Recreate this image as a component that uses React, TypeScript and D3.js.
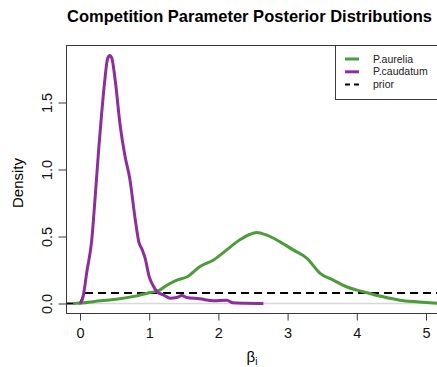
import React, { useEffect, useRef } from 'react';
import * as d3 from 'd3';

// posterior density estimates: [beta, density]
const aureliaX = [-0.1, 0.0, 0.3, 0.55, 0.8, 1.0, 1.15, 1.25, 1.4, 1.55, 1.73, 1.93, 2.12, 2.31, 2.45, 2.55, 2.7, 2.89, 3.08, 3.28, 3.47, 3.66, 3.85, 4.0, 4.15, 4.38, 4.62, 4.9, 5.2];
const aureliaY = [0.0, 0.003, 0.02, 0.033, 0.055, 0.08, 0.1, 0.135, 0.175, 0.2, 0.275, 0.325, 0.4, 0.475, 0.515, 0.53, 0.51, 0.46, 0.4, 0.337, 0.225, 0.175, 0.125, 0.1, 0.08, 0.05, 0.025, 0.012, 0.0];

const caudatumX = [0.0, 0.04, 0.1, 0.17, 0.22, 0.27, 0.31, 0.36, 0.4, 0.43, 0.46, 0.51, 0.58, 0.65, 0.72, 0.8, 0.85, 0.9, 0.94, 1.0, 1.06, 1.11, 1.2, 1.3, 1.4, 1.47, 1.54, 1.73, 1.93, 2.12, 2.21, 2.4, 2.65];
const caudatumY = [0.0, 0.04, 0.24, 0.475, 0.8, 1.15, 1.4, 1.675, 1.83, 1.85, 1.83, 1.66, 1.33, 1.1, 0.93, 0.62, 0.46, 0.4, 0.34, 0.2, 0.13, 0.09, 0.065, 0.04, 0.045, 0.06, 0.045, 0.035, 0.02, 0.025, 0.005, 0.002, 0.0];

const priorX = [-0.2, 0.0, 0.06, 6.0];
const priorY = [0.0, 0.0, 0.078, 0.078];

const xTicks = [0, 1, 2, 3, 4, 5];
const yTicks = [0.0, 0.5, 1.0, 1.5];
const yTickLabels = ['0.0', '0.5', '1.0', '1.5'];

const seriesNames = ['P.aurelia', 'P.caudatum', 'prior'];
const seriesColors = ['#4c9c39', '#8c2e9b', '#000000'];

const width = 437;
const height = 367;
const font = '"Liberation Sans", Arial, Helvetica, sans-serif';

type Pt = [number, number];

function App() {
  const ref = useRef<SVGSVGElement>(null);

  useEffect(() => {
    const svg = d3.select(ref.current);
    svg.selectAll('*').remove();

    const box = { left: 66.5, top: 45.5, right: 460, bottom: 313.5 };

    const xScale = d3.scaleLinear().domain([0, 5]).range([80, 426]);
    const yScale = d3.scaleLinear().domain([0, 1.5]).range([303.5, 102.5]);

    const plot = svg.append('g');
    plot
      .append('clipPath')
      .attr('id', 'plotclip')
      .append('rect')
      .attr('x', box.left)
      .attr('y', box.top)
      .attr('width', box.right - box.left)
      .attr('height', box.bottom - box.top);

    const inner = plot.append('g').attr('clip-path', 'url(#plotclip)');

    // zero reference line
    inner
      .append('line')
      .attr('x1', box.left)
      .attr('x2', box.right)
      .attr('y1', yScale(0))
      .attr('y2', yScale(0))
      .attr('stroke', '#d8d8d8')
      .attr('stroke-width', 1.5);

    const line = d3
      .line<Pt>()
      .x((d) => xScale(d[0]))
      .y((d) => yScale(d[1]))
      .curve(d3.curveMonotoneX);

    const zip = (xs: number[], ys: number[]): Pt[] => xs.map((x, i) => [x, ys[i]]);

    inner
      .append('path')
      .attr('d', d3.line<Pt>().x((d) => xScale(d[0])).y((d) => yScale(d[1]))(zip(priorX, priorY))!)
      .attr('fill', 'none')
      .attr('stroke', seriesColors[2])
      .attr('stroke-width', 2)
      .attr('stroke-dasharray', '8,5');

    inner
      .append('path')
      .attr('d', line(zip(aureliaX, aureliaY))!)
      .attr('fill', 'none')
      .attr('stroke', seriesColors[0])
      .attr('stroke-width', 3)
      .attr('stroke-linejoin', 'round');

    inner
      .append('path')
      .attr('d', line(zip(caudatumX, caudatumY))!)
      .attr('fill', 'none')
      .attr('stroke', seriesColors[1])
      .attr('stroke-width', 3)
      .attr('stroke-linejoin', 'round');

    // box
    plot
      .append('rect')
      .attr('x', box.left)
      .attr('y', box.top)
      .attr('width', box.right - box.left)
      .attr('height', box.bottom - box.top)
      .attr('fill', 'none')
      .attr('stroke', '#3a3a3a')
      .attr('stroke-width', 1);

    // x axis
    const xAxis = svg
      .append('g')
      .attr('transform', `translate(0,${box.bottom})`)
      .call(d3.axisBottom(xScale).tickValues(xTicks).tickSize(7).tickPadding(7).tickFormat(d3.format('d')));
    xAxis.select('.domain').remove();
    xAxis.selectAll('line').attr('stroke', '#3a3a3a');
    xAxis
      .selectAll('text')
      .attr('font-family', font)
      .attr('font-size', 14.5)
      .attr('fill', '#111');

    // y axis
    const yAxis = svg
      .append('g')
      .attr('transform', `translate(${box.left},0)`)
      .call(d3.axisLeft(yScale).tickValues(yTicks).tickSize(8).tickFormat((d, i) => yTickLabels[i]));
    yAxis.select('.domain').remove();
    yAxis.selectAll('line').attr('stroke', '#3a3a3a');
    yAxis
      .selectAll('text')
      .attr('font-family', font)
      .attr('font-size', 14.5)
      .attr('fill', '#111')
      .attr('text-anchor', 'middle')
      .attr('dy', null)
      .attr('x', 0)
      .attr('transform', 'translate(-20,0) rotate(-90)')
      .attr('y', 0)
      .attr('dominant-baseline', 'central');

    // title and axis labels
    svg
      .append('text')
      .attr('x', 67)
      .attr('y', 22)
      .attr('font-family', font)
      .attr('font-weight', 'bold')
      .attr('font-size', 16.5)
      .attr('fill', '#000')
      .text('Competition Parameter Posterior Distributions');

    svg
      .append('text')
      .attr('transform', 'translate(23,183) rotate(-90)')
      .attr('text-anchor', 'middle')
      .attr('font-family', font)
      .attr('font-size', 15)
      .attr('fill', '#000')
      .text('Density');

    const xl = svg
      .append('text')
      .attr('x', 252)
      .attr('y', 362)
      .attr('text-anchor', 'middle')
      .attr('font-family', font)
      .attr('font-size', 15)
      .attr('fill', '#000');
    xl.append('tspan').text('β');
    xl.append('tspan').attr('font-size', 10).attr('dy', 3).text('i');

    // legend
    const lg = svg.append('g');
    lg.append('rect')
      .attr('x', 335.5)
      .attr('y', box.top)
      .attr('width', 120)
      .attr('height', 54)
      .attr('fill', '#fff')
      .attr('stroke', '#3a3a3a');
    seriesNames.forEach((name, i) => {
      const y = 59 + i * 12.8;
      lg.append('line')
        .attr('x1', 345)
        .attr('x2', 359)
        .attr('y1', y)
        .attr('y2', y)
        .attr('stroke', seriesColors[i])
        .attr('stroke-width', i === 2 ? 2 : 3)
        .attr('stroke-dasharray', i === 2 ? '5,4' : null);
      lg.append('text')
        .attr('x', 373)
        .attr('y', y)
        .attr('dy', '0.35em')
        .attr('font-family', font)
        .attr('font-size', 10.5)
        .attr('fill', '#222')
        .text(name);
    });
  }, []);

  return (
    <svg
      ref={ref}
      width={width}
      height={height}
      style={{ position: 'absolute', left: 0, top: 0, background: '#fff' }}
    />
  );
}

export default App;
